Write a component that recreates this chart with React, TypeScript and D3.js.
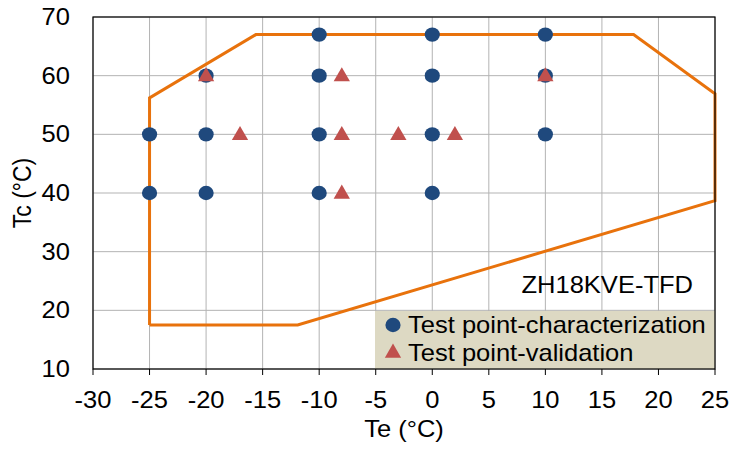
import React from 'react';
import * as d3 from 'd3';

// characterization test points [Te, Tc]
const charTe = [-25, -25, -20, -20, -20, -10, -10, -10, -10, 0, 0, 0, 0, 10, 10, 10];
const charTc = [50, 40, 60, 50, 40, 67, 60, 50, 40, 67, 60, 50, 40, 67, 60, 50];

// validation test points
const valTe = [-20, -17, -8, -8, -8, -3, 2, 10];
const valTc = [60, 50, 60, 50, 40, 50, 50, 60];

// operating envelope
const envTe = [-25, -25, -15.6, 17.8, 25, 25, -11.9, -25];
const envTc = [17.5, 56.2, 67, 67, 56.9, 38.7, 17.5, 17.5];

const xTicks = [-30, -25, -20, -15, -10, -5, 0, 5, 10, 15, 20, 25];
const yTicks = [10, 20, 30, 40, 50, 60, 70];

const W = 729;
const H = 450;
const margin = { top: 17, right: 14, bottom: 81, left: 93 };
const font = 'Liberation Sans, Arial, sans-serif';
const fs = 23;
const sx = 1.11; // the picture is a bit wider than tall

type LabelProps = { x: number; y: number; anchor?: string; rotate?: number; children: React.ReactNode };
const Label = ({ x, y, anchor = 'start', rotate = 0, children }: LabelProps) => (
  <text
    transform={`translate(${x},${y}) rotate(${rotate}) scale(${rotate ? 1 : sx},${rotate ? sx : 1})`}
    textAnchor={anchor}
    fontFamily={font}
    fontSize={fs}
    fill="#000"
  >
    {children}
  </text>
);

const App = () => {
  const innerW = W - margin.left - margin.right;
  const innerH = H - margin.top - margin.bottom;

  const x = d3.scaleLinear().domain([-30, 25]).range([0, innerW]);
  const y = d3.scaleLinear().domain([10, 70]).range([innerH, 0]);

  const line = d3
    .line<number>()
    .x((d, i) => x(envTe[i]))
    .y((d, i) => y(envTc[i]));

  const tri = d3.symbol().type(d3.symbolTriangle).size(115)();
  const legX = 282;
  const legY = 294;

  return (
    <svg width={W} height={H} style={{ position: 'absolute', left: 0, top: 0 }}>
      <rect width={W} height={H} fill="#fff" />
      <g transform={`translate(${margin.left},${margin.top})`}>
        {xTicks.map((t) => (
          <line key={'gx' + t} x1={x(t)} x2={x(t)} y1={0} y2={innerH} stroke="#b3b3b3" strokeWidth={1} />
        ))}
        {yTicks.map((t) => (
          <line key={'gy' + t} x1={0} x2={innerW} y1={y(t)} y2={y(t)} stroke="#b3b3b3" strokeWidth={1} />
        ))}
        <path d={line(envTe) || ''} fill="none" stroke="#E8720C" strokeWidth={3} strokeLinejoin="miter" />
        {charTe.map((te, i) => (
          <ellipse key={'c' + i} cx={x(te)} cy={y(charTc[i])} rx={7.6} ry={7.2} fill="#1F497D" />
        ))}
        {valTe.map((te, i) => (
          <path key={'v' + i} d={tri || ''} transform={`translate(${x(te)},${y(valTc[i]) + 1})`} fill="#C0504D" />
        ))}
        <rect x={legX} y={legY} width={innerW - legX} height={innerH - legY} fill="#DDD9C3" />
        <ellipse cx={legX + 18} cy={legY + 14} rx={7.6} ry={7.2} fill="#1F497D" />
        <path d={tri || ''} transform={`translate(${legX + 18},${legY + 42})`} fill="#C0504D" />
        <Label x={legX + 33} y={legY + 22}>Test point-characterization</Label>
        <Label x={legX + 33} y={legY + 50}>Test point-validation</Label>
        <Label x={innerW - 22} y={276} anchor="end">ZH18KVE-TFD</Label>
        <rect x={0} y={0} width={innerW} height={innerH} fill="none" stroke="#000" strokeWidth={1.2} />
        {xTicks.map((t) => (
          <g key={'tx' + t}>
            <line x1={x(t)} x2={x(t)} y1={innerH} y2={innerH + 6} stroke="#000" />
            <Label x={x(t)} y={innerH + 39} anchor="middle">{t}</Label>
          </g>
        ))}
        {yTicks.map((t) => (
          <Label key={'ty' + t} x={-23} y={y(t) + 8} anchor="end">{t}</Label>
        ))}
        <Label x={innerW / 2} y={innerH + 68} anchor="middle">Te (°C)</Label>
        <Label x={-62} y={innerH / 2} anchor="middle" rotate={-90}>Tc (°C)</Label>
      </g>
    </svg>
  );
};

export default App;
